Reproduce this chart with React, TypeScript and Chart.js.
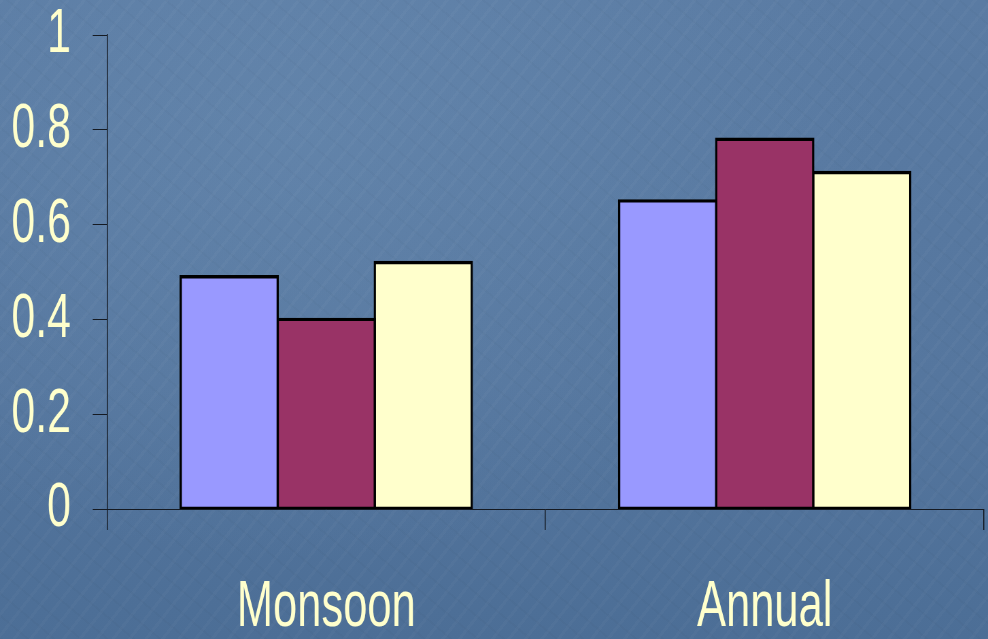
import { useEffect, useRef } from "react";
import { Chart, registerables } from "chart.js";

Chart.register(...registerables);

// Categories and the three series shown in each group
const categories = ["Monsoon", "Annual"];
const seriesBlue = [0.49, 0.65];
const seriesMaroon = [0.4, 0.78];
const seriesCream = [0.52, 0.71];
const yTickLabels = ["0", "0.2", "0.4", "0.6", "0.8", "1"];

const TEXT = "#FFFFCC";
const AXIS = "#151a22";
const FONT = "'Liberation Sans', Arial, sans-serif";

// The drawing is laid out on a wider canvas and squeezed horizontally,
// which gives the tall, condensed lettering of the slide.
const VIEW_W = 988;
const VIEW_H = 639;
const SQUEEZE = 0.68;
const CANVAS_W = Math.round(VIEW_W / SQUEEZE);

export default function App() {
  const ref = useRef<HTMLCanvasElement | null>(null);

  useEffect(() => {
    const canvas = ref.current;
    if (!canvas) return;
    const bar = (data: number[], color: string) => ({
      data,
      backgroundColor: color,
      borderColor: "#000000",
      borderWidth: 3.4,
      borderSkipped: false as const,
      inflateAmount: 1.7,
      categoryPercentage: 0.664,
      barPercentage: 1,
    });
    const chart = new Chart(canvas, {
      type: "bar",
      data: {
        labels: categories,
        datasets: [
          bar(seriesBlue, "#9999FF"),
          bar(seriesMaroon, "#993366"),
          bar(seriesCream, "#FFFFCC"),
        ],
      },
      options: {
        animation: false,
        responsive: false,
        devicePixelRatio: 1,
        layout: { padding: { top: 35, right: 6, left: 0, bottom: 0 } },
        plugins: { legend: { display: false }, tooltip: { enabled: false } },
        scales: {
          x: {
            offset: true,
            grid: {
              offset: true,
              drawOnChartArea: false,
              drawTicks: true,
              tickLength: 21,
              color: AXIS,
              lineWidth: 1.5,
            },
            border: { display: true, color: AXIS, width: 1 },
            ticks: {
              color: TEXT,
              padding: 46,
              maxRotation: 0,
              font: { family: FONT, size: 64, lineHeight: 1 },
            },
            afterFit: (s: any) => {
              s.height = 130;
              s.paddingLeft = 0;
              s.paddingRight = 0;
            },
          },
          y: {
            min: 0,
            max: 1,
            ticks: {
              stepSize: 0.2,
              color: TEXT,
              padding: 32,
              font: { family: FONT, size: 63, lineHeight: 1 },
              callback: (_v: any, i: number) => yTickLabels[i],
            },
            grid: {
              drawOnChartArea: false,
              drawTicks: true,
              tickLength: 21,
              color: AXIS,
              lineWidth: 1,
            },
            border: { display: true, color: AXIS, width: 1.5 },
            afterFit: (s: any) => {
              s.width = 157.4;
              s.paddingTop = 0;
              s.paddingBottom = 0;
            },
          },
        },
      },
    });
    return () => chart.destroy();
  }, []);

  return (
    <div
      style={{
        position: "fixed",
        left: 0,
        top: 0,
        width: VIEW_W,
        height: VIEW_H,
        overflow: "hidden",
        background:
          "repeating-linear-gradient(128deg, rgba(255,255,255,0.025) 0px, rgba(255,255,255,0.025) 3px, rgba(0,0,0,0) 3px, rgba(0,0,0,0) 13px)," +
          "repeating-linear-gradient(40deg, rgba(0,0,0,0.02) 0px, rgba(0,0,0,0.02) 2px, rgba(0,0,0,0) 2px, rgba(0,0,0,0) 17px)," +
          "radial-gradient(ellipse at 30% 20%, rgba(120,155,190,0.3), rgba(0,0,0,0) 60%)," +
          "linear-gradient(180deg, #5a7ba3 0%, #55769e 60%, #4c6e96 100%)",
      }}
    >
      <canvas
        ref={ref}
        width={CANVAS_W}
        height={VIEW_H}
        style={{
          display: "block",
          width: CANVAS_W + "px",
          height: VIEW_H + "px",
          transform: `scaleX(${VIEW_W / CANVAS_W})`,
          transformOrigin: "left top",
        }}
      />
    </div>
  );
}
